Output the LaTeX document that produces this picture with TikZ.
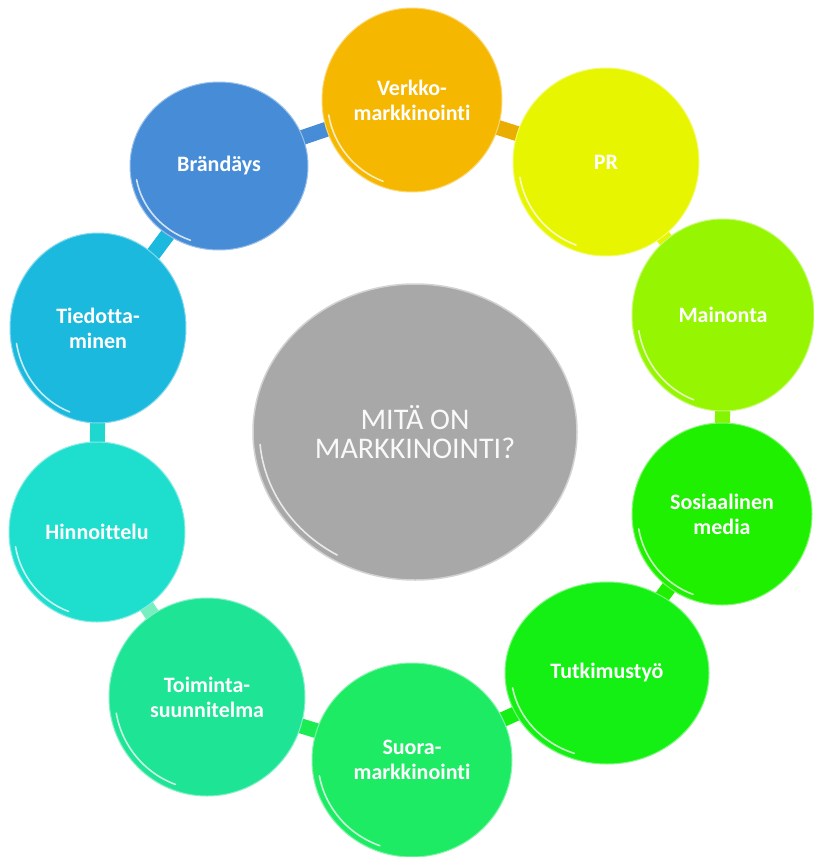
\documentclass[tikz,border=0pt]{standalone}
\usepackage{fontspec}
\setmainfont[Ligatures=NoCommon]{Carlito}
\usetikzlibrary{shapes.geometric}
\pgfdeclarelayer{bg}
\pgfsetlayers{bg,main}
\definecolor{cverk}{HTML}{F5B700}
\definecolor{cpr}{HTML}{E8F500}
\definecolor{cmain}{HTML}{96F500}
\definecolor{csos}{HTML}{1EF000}
\definecolor{ctut}{HTML}{14F014}
\definecolor{csuo}{HTML}{1EEB64}
\definecolor{ctoi}{HTML}{1EE496}
\definecolor{chin}{HTML}{1EDECD}
\definecolor{ctie}{HTML}{1CB9DE}
\definecolor{cbra}{HTML}{468CD7}
\definecolor{cgray}{HTML}{A8A8A8}
\tikzset{
  bubble/.style={ellipse, inner sep=0pt, text=white, align=center,
    font=\fontsize{22}{25}\selectfont\bfseries, line width=1pt},
  hub/.style={ellipse, inner sep=0pt, align=center, text=white!95!gray,
    font=\fontsize{30}{29}\selectfont, fill=cgray, draw=gray!35, line width=1.5pt},
  link/.style={line width=15pt},
  gloss/.style={white, opacity=.75, line width=1.6pt, line cap=round},
}
% name, x, y, rx, ry, colour, text
\newcommand\mybubble[7]{%
  \node[bubble, fill=#6, draw=#6!55!white, minimum width=2*#4pt, minimum height=2*#5pt]
    (#1) at (#2,-#3) {#7};
  \draw[gloss] (#2,-#3) ++(190:{0.94*#4} and {0.94*#5})
    arc[start angle=190, end angle=250, x radius=0.94*#4, y radius=0.94*#5];
}
\begin{document}
\begin{tikzpicture}[x=1pt,y=1pt]
\useasboundingbox (0,0) rectangle (814,-857);
\begin{pgfonlayer}{bg}
  \fill[white] (0,0) rectangle (814,-857);
\end{pgfonlayer}

\node[hub, minimum width=324pt, minimum height=296pt] (ctr) at (415,-432) {MITÄ ON\\MARKKINOINTI?};
\draw[gloss] (415,-432) ++(185:{0.96*162} and {0.96*148})
  arc[start angle=185, end angle=240, x radius=0.96*162, y radius=0.96*148];

\mybubble{verk}{412}{100}{90}{92}{cverk}{Verkko-\\markkinointi}
\mybubble{pr}{606}{162}{93}{94}{cpr}{PR}
\mybubble{main}{723}{315}{91}{96}{cmain}{Mainonta}
\mybubble{sos}{722}{514}{90}{91}{csos}{Sosiaalinen\\media}
\mybubble{tut}{607}{673}{102}{91}{ctut}{Tutkimustyö}
\mybubble{suo}{412}{760}{100}{97}{csuo}{Suora-\\markkinointi}
\mybubble{toi}{207}{697}{98}{99}{ctoi}{Toiminta-\\suunnitelma}
\mybubble{hin}{97}{532}{88}{90}{chin}{Hinnoittelu}
\mybubble{tie}{98}{328}{88}{95}{ctie}{Tiedotta-\\minen}
\mybubble{bra}{219}{166}{89}{84}{cbra}{Brändäys}

\begin{pgfonlayer}{bg}
  \draw[link, cbra] (bra.center) -- (verk.center);
  \draw[link, cverk!95!black] (verk.center) -- (pr.center);
  \draw[link, cpr] (pr.center) -- (main.center);
  \draw[link, cmain!85!csos] (main.center) -- (sos.center);
  \draw[link, csos] (sos.center) -- (tut.center);
  \draw[link, ctut] (tut.center) -- (suo.center);
  \draw[link, csuo!80!ctut] (suo.center) -- (toi.center);
  \draw[link, ctoi!60!white] (toi.center) -- (hin.center);
  \draw[link, chin!85!ctie] (hin.center) -- (tie.center);
  \draw[link, ctie] (tie.center) -- (bra.center);
\end{pgfonlayer}
\end{tikzpicture}
\end{document}
